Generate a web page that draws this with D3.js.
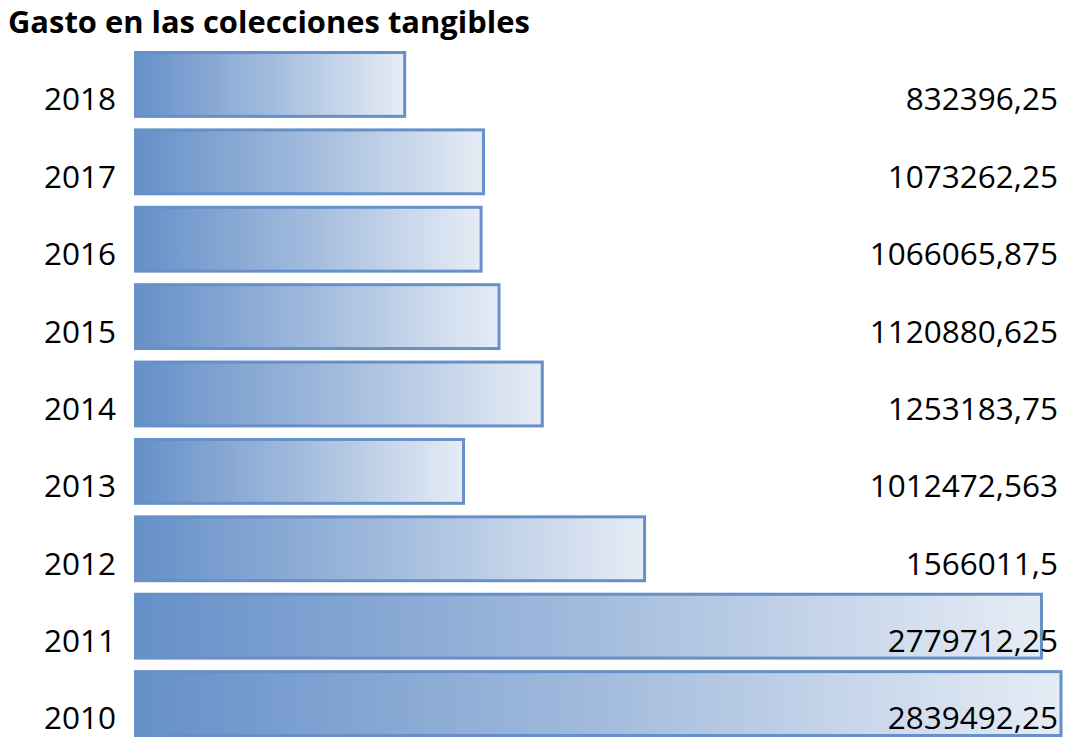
<!DOCTYPE html>
<html>
<head>
<meta charset="utf-8">
<script src="https://cdn.jsdelivr.net/npm/d3@7"></script>
<style>
  html, body { margin: 0; padding: 0; background: #fff; }
  svg { display: block; }
</style>
</head>
<body>
<svg id="chart" width="1068" height="739"></svg>
<script>
const title = "Gasto en las colecciones tangibles";
const years = ["2018", "2017", "2016", "2015", "2014", "2013", "2012", "2011", "2010"];
const values = [832396.25, 1073262.25, 1066065.875, 1120880.625, 1253183.75, 1012472.563, 1566011.5, 2779712.25, 2839492.25];

const W = 1068, H = 739;
const svg = d3.select("#chart");
const font = "'Open Sans', 'Noto Sans', sans-serif";

const x = d3.scaleLinear().domain([0, 3000000]).range([134, 1115]);
const y = d3.scaleBand().domain(years).range([45.75, 742.25]).paddingInner(0.136).paddingOuter(0.068);

const defs = svg.append("defs");
const grad = defs.append("linearGradient").attr("id", "barGrad")
  .attr("x1", "0%").attr("x2", "100%").attr("y1", "0%").attr("y2", "0%");
grad.append("stop").attr("offset", "0%").attr("stop-color", "#6690c8");
grad.append("stop").attr("offset", "50%").attr("stop-color", "#a2bbdd");
grad.append("stop").attr("offset", "100%").attr("stop-color", "#e6ecf5");

const data = years.map((yr, i) => ({ year: yr, value: values[i] }));
const sw = 3;

svg.append("g").selectAll("rect").data(data).join("rect")
  .attr("x", x(0) + sw / 2)
  .attr("y", d => y(d.year) + sw / 2)
  .attr("width", d => x(d.value) - x(0) - sw)
  .attr("height", y.bandwidth() - sw)
  .attr("fill", "url(#barGrad)")
  .attr("stroke", "#6690c8")
  .attr("stroke-width", sw);

const fs = 31.5;
const off = 7.5;

// year labels
svg.append("g").selectAll("text").data(data).join("text")
  .attr("x", 116)
  .attr("y", d => y(d.year) + y.bandwidth() - off)
  .attr("text-anchor", "end")
  .attr("font-family", font)
  .attr("font-size", fs)
  .attr("fill", "#000")
  .text(d => d.year);

// value labels
svg.append("g").selectAll("text").data(data).join("text")
  .attr("x", 1058)
  .attr("y", d => y(d.year) + y.bandwidth() - off)
  .attr("text-anchor", "end")
  .attr("font-family", font)
  .attr("font-size", fs)
  .attr("fill", "#000")
  .text(d => String(d.value).replace(".", ","));

// title
const t = svg.append("text")
  .attr("x", 8).attr("y", 33)
  .attr("font-family", font)
  .attr("font-weight", "bold")
  .attr("font-size", 30)
  .attr("fill", "#000")
  .text(title);
const tw = t.node().getComputedTextLength();
t.attr("font-size", 30 * 522 / tw);
</script>
</body>
</html>
